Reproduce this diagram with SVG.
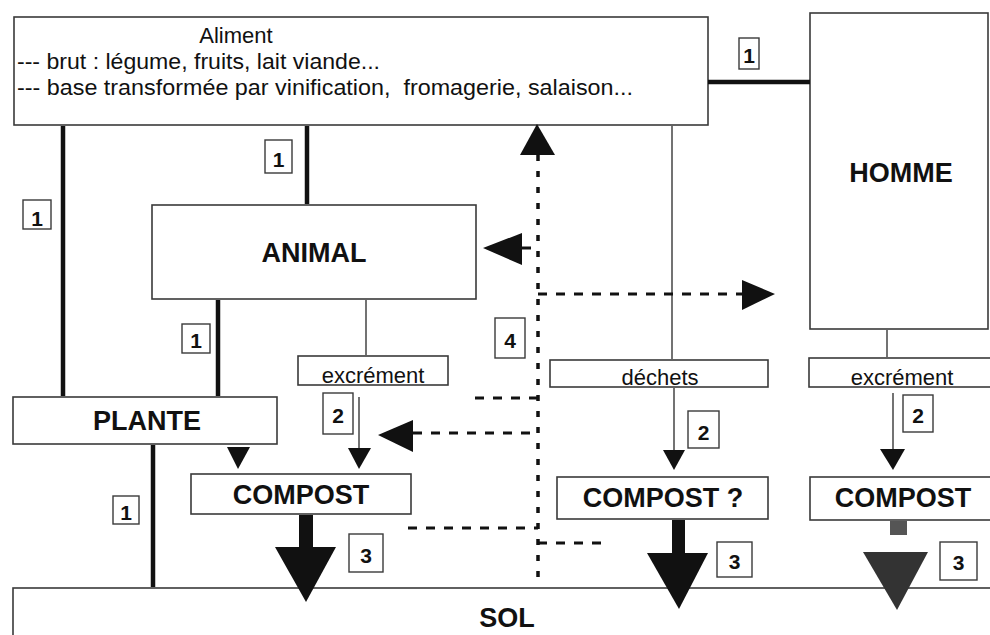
<svg xmlns="http://www.w3.org/2000/svg" width="990" height="635" viewBox="0 0 990 635">
<style>
.box{fill:#fff;stroke:#3a3a3a;stroke-width:1.6}
.lbl{fill:#fff;stroke:#3a3a3a;stroke-width:1.4}
.t{font-family:"Liberation Sans",Arial,sans-serif;font-size:22px;fill:#111}
.b{font-family:"Liberation Sans",Arial,sans-serif;font-size:27px;font-weight:bold;fill:#111;text-anchor:middle}
.n{font-family:"Liberation Sans",Arial,sans-serif;font-size:21px;font-weight:bold;fill:#111;text-anchor:middle}
.thick{stroke:#111;stroke-width:4.5;fill:none}
.thin{stroke:#444;stroke-width:1.5;fill:none}
.dash{stroke:#111;stroke-width:3;fill:none;stroke-dasharray:9 9}
.dot{stroke:#111;stroke-width:3.5;fill:none;stroke-dasharray:6 10}
.head{fill:#111}
</style>
<rect width="990" height="635" fill="#fff"/>

<g id="aliment">
  <rect class="box" x="14" y="17" width="694" height="108"/>
  <text class="t" x="236" y="43" text-anchor="middle">Aliment</text>
  <text class="t" x="17" y="69" xml:space="preserve" textLength="363" lengthAdjust="spacingAndGlyphs">--- brut : légume, fruits, lait viande...</text>
  <text class="t" x="17" y="95" xml:space="preserve" textLength="616" lengthAdjust="spacingAndGlyphs">--- base transformée par vinification,  fromagerie, salaison...</text>
</g>
<g id="homme">
  <rect class="box" x="810" y="13" width="178" height="316"/>
  <text class="b" x="901" y="182">HOMME</text>
</g>
<g id="animal">
  <rect class="box" x="152" y="205" width="324" height="94"/>
  <text class="b" x="314" y="262">ANIMAL</text>
</g>
<g id="excrement-animal">
  <rect class="box" x="298" y="356" width="150" height="29"/>
  <text class="t" x="373" y="383" text-anchor="middle">excrément</text>
</g>
<g id="dechets">
  <rect class="box" x="550" y="360" width="218" height="27"/>
  <text class="t" x="660" y="385" text-anchor="middle">déchets</text>
</g>
<g id="excrement-homme">
  <rect class="box" x="809" y="358" width="185" height="29"/>
  <text class="t" x="902" y="385" text-anchor="middle">excrément</text>
</g>
<g id="plante">
  <rect class="box" x="13" y="397" width="264" height="47"/>
  <text class="b" x="147" y="430">PLANTE</text>
</g>
<g id="compost1">
  <rect class="box" x="191" y="474" width="220" height="40"/>
  <text class="b" x="301" y="504">COMPOST</text>
</g>
<g id="compost2">
  <rect class="box" x="557" y="477" width="211" height="42"/>
  <text class="b" x="663" y="507">COMPOST ?</text>
</g>
<g id="compost3">
  <rect class="box" x="810" y="477" width="185" height="43"/>
  <text class="b" x="903" y="507">COMPOST</text>
</g>
<g id="sol">
  <rect class="box" x="13" y="588" width="985" height="60"/>
  <text class="b" x="507" y="627">SOL</text>
</g>

<g id="connectors">
  <line class="thick" x1="708" y1="82" x2="810" y2="82" stroke="#333"/>
  <line class="thick" x1="63" y1="126" x2="63" y2="396"/>
  <line class="thick" x1="307" y1="126" x2="307" y2="204"/>
  <line class="thick" x1="218" y1="300" x2="218" y2="396"/>
  <line class="thick" x1="153" y1="445" x2="153" y2="587"/>
  <line class="thin" x1="366" y1="300" x2="366" y2="355"/>
  <line class="thin" x1="672" y1="126" x2="672" y2="359"/>
  <line class="thin" x1="887" y1="330" x2="887" y2="357"/>
  <polygon class="head" points="227,447 250,447 238,469"/>
  <line class="thin" x1="359" y1="397" x2="359" y2="452"/>
  <polygon class="head" points="348,448 371,448 359,469"/>
  <line class="thin" x1="674" y1="388" x2="674" y2="452"/>
  <polygon class="head" points="663,450 685,450 674,470"/>
  <line class="thin" x1="893" y1="393" x2="893" y2="452"/>
  <polygon class="head" points="880,449 905,449 893,470" fill="#333"/>
  <rect x="299" y="515" width="14" height="33" fill="#111"/>
  <polygon class="head" points="275,547 336,547 306,602"/>
  <rect x="672" y="520" width="13" height="34" fill="#111"/>
  <polygon class="head" points="647,553 708,553 679,609"/>
  <rect x="890" y="521" width="17" height="14" fill="#555"/>
  <polygon points="863,552 928,552 897,610" fill="#333"/>
  <line class="dot" x1="538" y1="155" x2="538" y2="582"/>
  <polygon class="head" points="520,155 555,155 537,124"/>
  <line class="dash" x1="522" y1="248" x2="538" y2="248"/>
  <polygon class="head" points="483,248 522,233 522,265"/>
  <line class="dash" x1="538" y1="294" x2="744" y2="294"/>
  <polygon class="head" points="742,280 742,310 775,294"/>
  <line class="dash" x1="475" y1="398" x2="538" y2="398"/>
  <line class="dash" x1="413" y1="433" x2="538" y2="433"/>
  <polygon class="head" points="378,435 413,420 413,452"/>
  <line class="dash" x1="408" y1="528" x2="538" y2="528"/>
  <line class="dash" x1="538" y1="543" x2="607" y2="543"/>
</g>

<g id="labels">
  <rect class="lbl" x="739" y="38" width="20" height="31"/><text class="n" x="749" y="63">1</text>
  <rect class="lbl" x="23" y="200" width="28" height="29"/><text class="n" x="37" y="226">1</text>
  <rect class="lbl" x="265" y="140" width="27" height="33"/><text class="n" x="278.5" y="167">1</text>
  <rect class="lbl" x="182" y="324" width="28" height="29"/><text class="n" x="196" y="348">1</text>
  <rect class="lbl" x="113" y="496" width="26" height="28"/><text class="n" x="126" y="520">1</text>
  <rect class="lbl" x="495" y="318" width="30" height="40"/><text class="n" x="510" y="348">4</text>
  <rect class="lbl" x="323" y="393" width="30" height="41"/><text class="n" x="338" y="423">2</text>
  <rect class="lbl" x="688" y="411" width="31" height="37"/><text class="n" x="703.5" y="440">2</text>
  <rect class="lbl" x="903" y="395" width="30" height="37"/><text class="n" x="918" y="423">2</text>
  <rect class="lbl" x="349" y="534" width="34" height="38"/><text class="n" x="366" y="563">3</text>
  <rect class="lbl" x="717" y="542" width="35" height="35"/><text class="n" x="734.5" y="569">3</text>
  <rect class="lbl" x="940" y="542" width="37" height="38"/><text class="n" x="958.5" y="570">3</text>
</g>
</svg>
